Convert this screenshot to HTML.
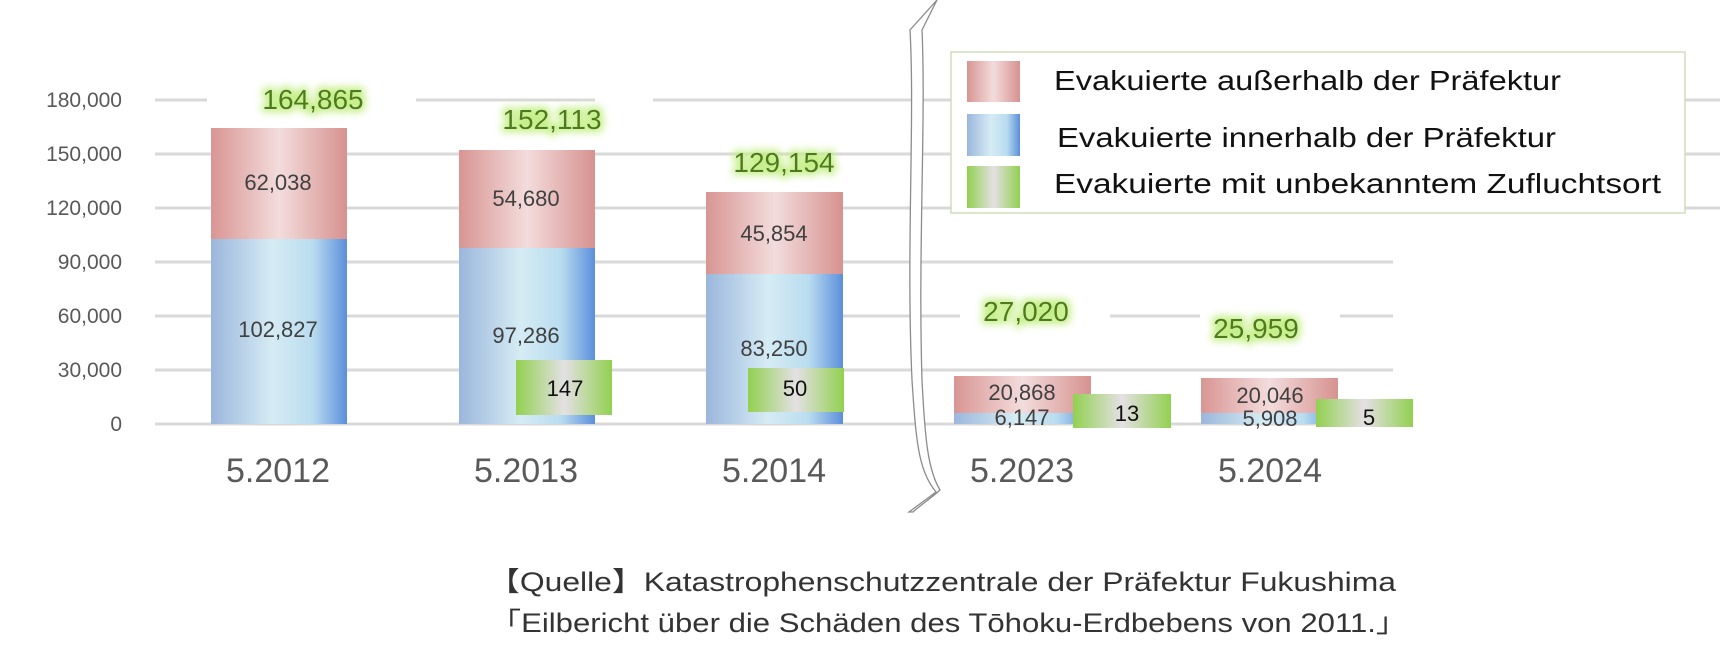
<!DOCTYPE html>
<html><head><meta charset="utf-8"><style>
html,body{margin:0;padding:0;background:#fff}
svg{display:block}
text{font-family:"Liberation Sans","Noto Sans CJK JP",sans-serif}
</style></head><body>
<svg width="1734" height="669" viewBox="0 0 1734 669" xmlns="http://www.w3.org/2000/svg">
<defs>
<linearGradient id="pk" x1="0" x2="1" y1="0" y2="0">
<stop offset="0" stop-color="#d89593"/><stop offset="0.5" stop-color="#f3dcdc"/><stop offset="1" stop-color="#d69290"/></linearGradient>
<linearGradient id="bl" x1="0" x2="1" y1="0" y2="0">
<stop offset="0" stop-color="#9bb6dc"/><stop offset="0.45" stop-color="#d5ecf4"/><stop offset="0.75" stop-color="#b9dcef"/><stop offset="1" stop-color="#5b8fdb"/></linearGradient>
<linearGradient id="gr" x1="0" x2="1" y1="0" y2="0">
<stop offset="0" stop-color="#92d050"/><stop offset="0.5" stop-color="#e4e0e4"/><stop offset="1" stop-color="#92d050"/></linearGradient>
<filter id="glow" x="-20%" y="-40%" width="140%" height="180%">
<feMorphology operator="dilate" radius="3" in="SourceAlpha" result="d"/>
<feGaussianBlur in="d" stdDeviation="4" result="b"/>
<feFlood flood-color="#c6ef8a"/><feComposite in2="b" operator="in" result="g"/>
<feMerge><feMergeNode in="g"/><feMergeNode in="SourceGraphic"/></feMerge></filter>
</defs>
<g stroke="#d9d9d9" stroke-width="3">
<line x1="155" y1="100" x2="1720" y2="100"/>
<line x1="155" y1="154" x2="1720" y2="154"/>
<line x1="155" y1="208" x2="1720" y2="208"/>
<line x1="155" y1="262" x2="1393" y2="262"/>
<line x1="155" y1="316" x2="1393" y2="316"/>
<line x1="155" y1="370" x2="1393" y2="370"/>
<line x1="155" y1="424" x2="1393" y2="424"/>
</g>
<g fill="#fff">
<rect x="207" y="86" width="209" height="28"/>
<rect x="595" y="86" width="58" height="28"/>
<rect x="960" y="300" width="150" height="28"/>
<rect x="1200" y="300" width="140" height="28"/>
</g>
<g fill="#595959" font-size="21" text-anchor="end">
<text x="122" y="107">180,000</text><text x="122" y="161">150,000</text>
<text x="122" y="215">120,000</text><text x="122" y="269">90,000</text>
<text x="122" y="323">60,000</text><text x="122" y="377">30,000</text>
<text x="122" y="431">0</text>
</g>
<rect x="211" y="128" width="136" height="111" fill="url(#pk)"/>
<rect x="211" y="239" width="136" height="185" fill="url(#bl)"/>
<rect x="459" y="150" width="136" height="98" fill="url(#pk)"/>
<rect x="459" y="248" width="136" height="176" fill="url(#bl)"/>
<rect x="706" y="192" width="137" height="83" fill="url(#pk)"/>
<rect x="706" y="274" width="137" height="150" fill="url(#bl)"/>
<rect x="516" y="360" width="96" height="55" fill="url(#gr)"/>
<rect x="748" y="368" width="96" height="44" fill="url(#gr)"/>
<rect x="954" y="376" width="137" height="37" fill="url(#pk)"/>
<rect x="954" y="413" width="137" height="11" fill="url(#bl)"/>
<rect x="1073" y="394" width="98" height="34" fill="url(#gr)"/>
<rect x="1201" y="378" width="137" height="35" fill="url(#pk)"/>
<rect x="1201" y="413" width="137" height="11" fill="url(#bl)"/>
<rect x="1316" y="399" width="97" height="28" fill="url(#gr)"/>
<g fill="#404040" font-size="22" text-anchor="middle">
<text x="278" y="190">62,038</text><text x="278" y="337">102,827</text>
<text x="526" y="206">54,680</text><text x="526" y="343">97,286</text>
<text x="774" y="241">45,854</text><text x="774" y="356">83,250</text>
<text x="1022" y="400">20,868</text><text x="1022" y="425">6,147</text>
<text x="1270" y="403">20,046</text><text x="1270" y="426">5,908</text>
</g>
<g fill="#111" font-size="22" text-anchor="middle">
<text x="565" y="396">147</text><text x="795" y="396">50</text>
<text x="1127" y="421">13</text><text x="1369" y="425">5</text>
</g>
<g fill="#4e7a1e" font-size="28" text-anchor="middle" filter="url(#glow)">
<text x="313" y="109">164,865</text><text x="552" y="129">152,113</text>
<text x="784" y="172">129,154</text><text x="1026" y="321">27,020</text>
<text x="1256" y="338">25,959</text>
</g>
<g fill="#595959" font-size="34" text-anchor="middle">
<text x="278" y="482">5.2012</text><text x="526" y="482">5.2013</text>
<text x="774" y="482">5.2014</text><text x="1022" y="482">5.2023</text>
<text x="1270" y="482">5.2024</text>
</g>
<path d="M937,0 L910,30 C915,120 906,250 912,380 C916,440 918,470 936,492 L909,512 L913,512 C917,508 935,495 940,490 C928,470 925,440 922,380 C918,250 926,120 922,30 Z" fill="#fff" stroke="#8c8c8c" stroke-width="1.3"/>
<rect x="951" y="52" width="734" height="161" fill="#fff" stroke="#c9d9b0" stroke-width="1.3"/>
<rect x="967" y="61" width="53" height="41" fill="url(#pk)"/>
<rect x="967" y="114" width="53" height="42" fill="url(#bl)"/>
<rect x="967" y="166" width="53" height="42" fill="url(#gr)"/>
<g fill="#111" font-size="28">
<text x="1054" y="90" textLength="507" lengthAdjust="spacingAndGlyphs">Evakuierte außerhalb der Präfektur</text>
<text x="1057" y="147" textLength="499" lengthAdjust="spacingAndGlyphs">Evakuierte innerhalb der Präfektur</text>
<text x="1054" y="193" textLength="607" lengthAdjust="spacingAndGlyphs">Evakuierte mit unbekanntem Zufluchtsort</text>
</g>
<g fill="#333" font-size="27">
<text x="488" y="591" textLength="908" lengthAdjust="spacingAndGlyphs">【Quelle】Katastrophenschutzzentrale der Präfektur Fukushima</text>
<text x="490" y="632" textLength="917" lengthAdjust="spacingAndGlyphs">「Eilbericht über die Schäden des Tōhoku-Erdbebens von 2011.」</text>
</g>
</svg>
</body></html>
